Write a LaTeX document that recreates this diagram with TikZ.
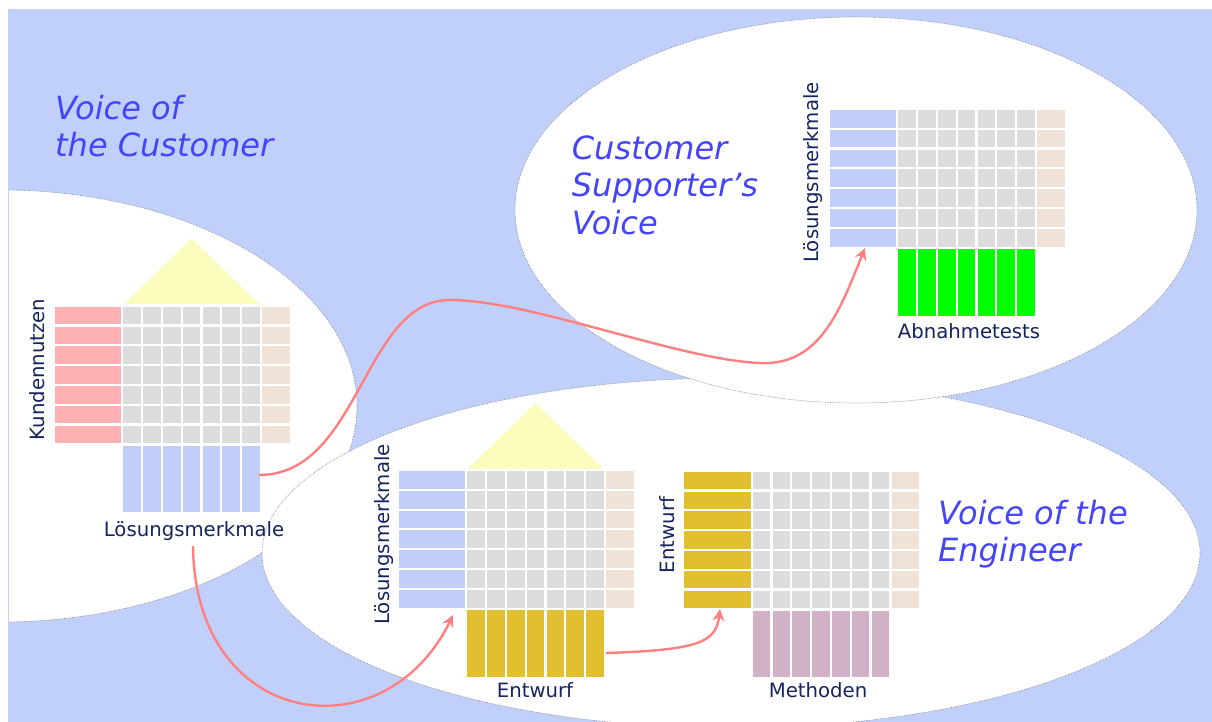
\documentclass[tikz,border=0pt]{standalone}
\usepackage{fontspec}
\setmainfont{DejaVu Sans}
\usetikzlibrary{arrows.meta}
\definecolor{bgblue}{RGB}{192,208,250}
\definecolor{cellgrey}{RGB}{220,220,220}
\definecolor{beige}{RGB}{240,226,214}
\definecolor{rowred}{RGB}{255,176,176}
\definecolor{rowblue}{RGB}{194,206,250}
\definecolor{roofyellow}{RGB}{251,251,187}
\definecolor{testgreen}{RGB}{0,255,0}
\definecolor{designyellow}{RGB}{225,191,46}
\definecolor{methpurple}{RGB}{209,177,198}
\definecolor{navy}{RGB}{22,36,94}
\definecolor{voiceblue}{RGB}{68,68,250}
\definecolor{arrowred}{RGB}{255,128,128}
\definecolor{outline}{RGB}{120,120,130}
\newcommand\qfdhouse[5]{%
  \foreach \i in {0,...,6}{
    \fill[#3] ({#1-68.7},{#2+\i*19.8}) rectangle ++(66.7,17.7);
    \fill[beige] ({#1+139},{#2+\i*19.8}) rectangle ++(27.5,17.7);
    \foreach \j in {0,...,6}{
      \fill[cellgrey] ({#1+\j*19.8},{#2+\i*19.8}) rectangle ++(17.7,17.7);
    }
    \fill[#4] ({#1+\i*19.8},{#2+139.2}) rectangle ++(17.7,66.5);
  }
  \ifnum#5=1
    \fill[roofyellow] ({#1+1},{#2-2.5}) -- ({#1+68.3},{#2-68}) -- ({#1+136},{#2-2.5}) -- cycle;
  \fi
}
\begin{document}
\begin{tikzpicture}[x=1pt,y=-1pt,
  ellipsebox/.style={fill=white,draw=outline,line width=0.6pt,densely dotted},
  lab/.style={text=navy,inner sep=0pt,font=\fontsize{19.7}{23}\selectfont},
  voice/.style={text=voiceblue,inner sep=0pt,anchor=base west,font=\fontsize{32}{37}\selectfont\itshape},
  conn/.style={draw=arrowred,line width=2.4pt,-{Stealth[length=12pt,width=12pt,inset=4pt]}}]
\useasboundingbox (0,0) rectangle (1212,722);
\begin{scope}
  \clip (8,9) rectangle (1212,722);
  \fill[bgblue] (8,9) rectangle (1212,722);
  \filldraw[ellipsebox] (0,406) ellipse [x radius=357, y radius=216];
  \filldraw[ellipsebox] (731,553) ellipse [x radius=469, y radius=175];
  \filldraw[ellipsebox] (856,210) ellipse [x radius=341, y radius=193];
\end{scope}
\draw[bgblue,line width=1pt] (8.5,9) -- (8.5,722);
% houses
\qfdhouse{123.3}{306.7}{rowred}{rowblue}{1}
\qfdhouse{467.3}{471}{rowblue}{designyellow}{1}
\qfdhouse{752.7}{471.7}{designyellow}{methpurple}{0}
\qfdhouse{898.3}{110}{rowblue}{testgreen}{0}
% voices
\node[voice] (vc1) at (55,120) {Voice of};
\node[voice] (vc2) at (55,156.7) {the Customer};
\node[voice] (vs1) at (571.7,160) {Customer};
\node[voice] (vs2) at (571.7,196.7) {Supporter’s};
\node[voice] (vs3) at (571.7,234.5) {Voice};
\node[voice] (ve1) at (938,524) {Voice of the};
\node[voice] (ve2) at (938,561) {Engineer};
% labels
\node[lab,rotate=90,anchor=base] (kn) at (44,369.5) {Kundennutzen};
\node[lab,anchor=base] (lm1) at (194,536.7) {Lösungsmerkmale};
\node[lab,rotate=90,anchor=base] (lm2) at (389,534.5) {Lösungsmerkmale};
\node[lab,rotate=90,anchor=base] (lm3) at (818,172.5) {Lösungsmerkmale};
\node[lab,anchor=base] (ab) at (969,338) {Abnahmetests};
\node[lab,anchor=base] (ew1) at (535,697.3) {Entwurf};
\node[lab,rotate=90,anchor=base] (ew2) at (674,535) {Entwurf};
\node[lab,anchor=base] (me) at (818,697.3) {Methoden};
% connector end points
\coordinate (a1s) at (259,475);
\coordinate (a1m) at (450,300);
\coordinate (a1n) at (760,363);
\coordinate (a1e) at (865,248);
\coordinate (a2s) at (193,546);
\coordinate (a2e) at (453,615);
\coordinate (a3s) at (606,653);
\coordinate (a3e) at (720,609);
\draw[conn] (a1s) .. controls (360,475) and (363,300) .. (a1m)
  .. controls (530,300) and (680,360) .. (a1n)
  .. controls (820,366) and (840,310) .. (a1e);
\draw[conn] (a2s) .. controls (195,730) and (385,755) .. (a2e);
\draw[conn] (a3s) .. controls (700,650) and (716,642) .. (a3e);
\end{tikzpicture}
\end{document}
